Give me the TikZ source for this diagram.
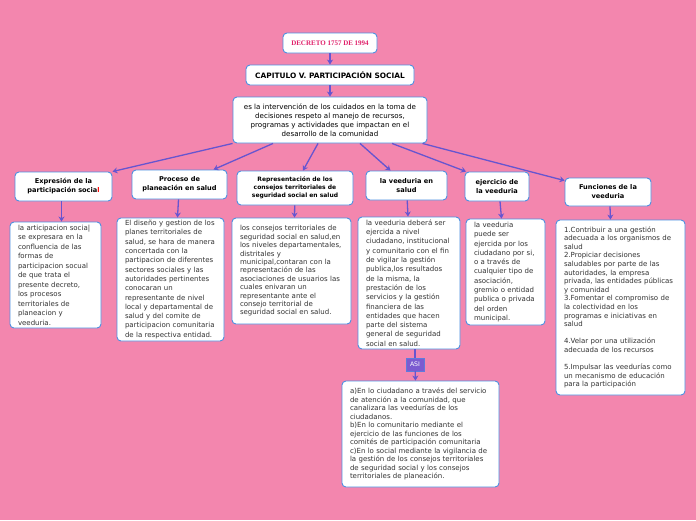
\documentclass[tikz,border=0pt]{standalone}
\usepackage{fontspec}
\setmainfont{DejaVu Sans}
\newfontfamily\titlefont{Liberation Serif}
\usetikzlibrary{arrows.meta}
\definecolor{bgpink}{HTML}{F386AE}
\definecolor{boxblue}{HTML}{4A90E2}
\definecolor{linkviolet}{HTML}{6655D0}
\definecolor{asiviolet}{HTML}{7B5BD0}
\definecolor{decretored}{HTML}{E0206A}
\begin{document}
\begin{tikzpicture}[x=1pt,y=-1pt,
  basebox/.style={draw=boxblue,line width=0.9pt,fill=white,rounded corners=4pt,inner sep=0pt},
  headbox/.style={basebox,align=center,font=\fontsize{6.6}{9}\selectfont\bfseries},
  txtbox/.style={basebox,align=left,inner xsep=8pt,text=black!80,font=\fontsize{7}{#1}\selectfont},
  txtbox/.default=9.3,
  link/.style={linkviolet,line width=1.3pt,-{Stealth[length=5pt,width=6pt]}}]
\fill[bgpink] (0,0) rectangle (696,520);
\useasboundingbox (0,0) rectangle (696,520);
% top of the map
\node[basebox,minimum width=94pt,minimum height=20pt,font=\titlefont\fontsize{7}{8}\selectfont\bfseries,text=decretored] (decreto) at (330,43) {DECRETO 1757 DE 1994};
\node[headbox,minimum width=168pt,minimum height=20pt,font=\fontsize{7.4}{8}\selectfont\bfseries] (capitulo) at (330,75) {CAPITULO V. PARTICIPACIÓN SOCIAL};
\node[basebox,align=center,minimum width=194pt,minimum height=46pt,font=\fontsize{7.1}{8.9}\selectfont] (def) at (330,120) {es la intervención de los cuidados en la toma de\\decisiones respeto al manejo de recursos,\\programas y actividades que impactan en el\\desarrollo de la comunidad};
% headings
\node[headbox,minimum width=97pt,minimum height=29pt] (expresion) at (63.5,186.5) {Expresión de la\\participación socia\textcolor{red}{l}};
\node[headbox,minimum width=95pt,minimum height=29pt] (proceso) at (179.5,184.5) {Proceso de\\planeación en salud};
\node[headbox,minimum width=116pt,minimum height=34pt,font=\fontsize{6}{7.9}\selectfont\bfseries] (representacion) at (295,188) {Representación de los\\consejos territoriales de\\seguridad social en salud};
\node[headbox,minimum width=81pt,minimum height=29pt] (veeduria) at (406.5,185.5) {la veeduria en\\salud};
\node[headbox,minimum width=64pt,minimum height=29pt] (ejercicio) at (497,186.5) {ejercicio de\\la veeduria};
\node[headbox,minimum width=86pt,minimum height=28pt] (funciones) at (608,192) {Funciones de la\\veeduria};
% texts
\node[txtbox=9.5,text width=75pt,minimum height=106pt] (txtexpresion) at (55.5,275) {la articipacion socia|\\se expresara en la\\confluencia de las\\formas de\\participacion socual\\de que trata el\\presente decreto,\\los procesos\\territoriales de\\planeacion y\\veeduria.};
\node[txtbox,text width=91pt,minimum height=123pt] (txtproceso) at (170.5,279.5) {El diseño y gestion de los\\planes territoriales de\\salud, se hara de manera\\concertada con la\\partipacion de diferentes\\sectores sociales y las\\autoridades pertinentes\\conocaran un\\representante de nivel\\local y departamental de\\salud y del comite de\\participacion comunitaria\\de la respectiva entidad.};
\node[txtbox=8.4,text width=103pt,minimum height=106pt] (txtrepresentacion) at (291.5,271) {los consejos territoriales de\\seguridad social en salud,en\\los niveles departamentales,\\distritales y\\municipal,contaran con la\\representación de las\\asociaciones de usuarios las\\cuales enivaran un\\representante ante el\\consejo territorial de\\seguridad social en salud.};
\node[txtbox,text width=86pt,minimum height=132pt] (txtveeduria) at (409,283) {la veeduria deberá ser\\ejercida a nivel\\ciudadano, institucional\\y comunitario con el fin\\de vigilar la gestión\\publica,los resultados\\de la misma, la\\prestación de los\\servicios y la gestión\\financiera de las\\entidades que hacen\\parte del sistema\\general de seguridad\\social en salud.};
\node[txtbox,text width=63pt,minimum height=106pt] (txtejercicio) at (505.5,272) {la veeduria\\puede ser\\ejercida por los\\ciudadano por si,\\o a través de\\cualquier tipo de\\asociación,\\gremio o entidad\\publica o privada\\del orden\\municipal.};
\node[txtbox=8.6,text width=113pt,minimum height=175pt] (txtfunciones) at (620.5,307.5) {1.Contribuir a una gestión\\adecuada a los organismos de\\salud\\2.Propiciar decisiones\\saludables por parte de las\\autoridades, la empresa\\privada, las entidades públicas\\y comunidad\\3.Fomentar el compromiso de\\la colectividad en los\\programas e iniciativas en\\salud\\[8.6pt]4.Velar por una utilización\\adecuada de los recursos\\[8.6pt]5.Impulsar las veedurías como\\un mecanismo de educación\\para la participación};
\node[draw=boxblue!60!asiviolet,fill=asiviolet,text=white,font=\fontsize{6.2}{7}\selectfont,minimum width=18pt,minimum height=13pt,inner sep=0pt] (asi) at (415,364.5) {ASI};
\node[txtbox=8.5,text width=141pt,minimum height=106pt] (txtasi) at (420.5,434) {a)En lo ciudadano a través del servicio\\de atención a la comunidad, que\\canalizara las veedurías de los\\ciudadanos.\\b)En lo comunitario mediante el\\ejercicio de las funciones de los\\comités de participación comunitaria\\c)En lo social mediante la vigilancia de\\la gestión de los consejos territoriales\\de seguridad social y los consejos\\territoriales de planeación.};
% connectors
\draw[link] (decreto) -- (capitulo);
\draw[link] (capitulo) -- (def);
\draw[link] (def.south west) -- (expresion.north east);
\draw[link] ([xshift=-57pt]def.south) -- ([xshift=34pt]proceso.north);
\draw[link] ([xshift=-12pt]def.south) -- ([xshift=8pt]representacion.north);
\draw[link] ([xshift=30pt]def.south) -- ([xshift=-16pt]veeduria.north);
\draw[link] ([xshift=62pt]def.south) -- ([xshift=-31pt]ejercicio.north);
\draw[link] ([xshift=-5pt]def.south east) -- ([yshift=-3pt]funciones.north west);
\draw[link] ([xshift=-2pt]expresion.south) -- ([xshift=6pt]txtexpresion.north);
\draw[link] ([xshift=-1pt]proceso.south) -- ([xshift=7pt]txtproceso.north);
\draw[link] (representacion) -- ([xshift=3pt]txtrepresentacion.north);
\draw[link] (veeduria) -- ([xshift=-1pt]txtveeduria.north);
\draw[link] ([xshift=3pt]ejercicio.south) -- ([xshift=-4pt]txtejercicio.north);
\draw[link] ([xshift=2pt]funciones.south) -- ([xshift=-10pt]txtfunciones.north);
\draw[linkviolet,line width=1.3pt] ([xshift=6pt]txtveeduria.south) -- (asi);
\draw[link] (asi) -- ([xshift=-5pt]txtasi.north);
\end{tikzpicture}
\end{document}
